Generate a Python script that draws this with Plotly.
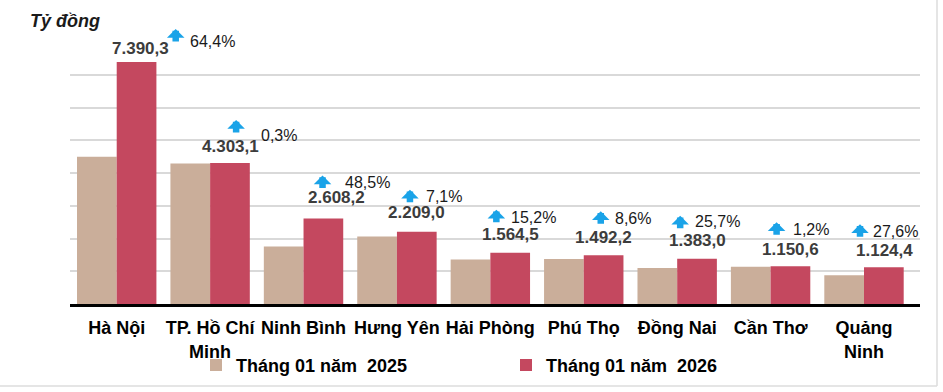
import plotly.graph_objects as go

categories = ["Hà Nội", "TP. Hồ Chí<br>Minh", "Ninh Bình", "Hưng Yên", "Hải Phòng",
              "Phú Thọ", "Đồng Nai", "Cần Thơ", "Quảng<br>Ninh"]
values_2025 = [4495.3, 4290.2, 1756.4, 2062.6, 1358.1, 1374.0, 1100.2, 1137.0, 881.2]
values_2026 = [7390.3, 4303.1, 2608.2, 2209.0, 1564.5, 1492.2, 1383.0, 1150.6, 1124.4]
value_labels = ["7.390,3", "4.303,1", "2.608,2", "2.209,0", "1.564,5",
                "1.492,2", "1.383,0", "1.150,6", "1.124,4"]
growth_labels = ["64,4%", "0,3%", "48,5%", "7,1%", "15,2%", "8,6%", "25,7%", "1,2%", "27,6%"]
series_names = ["Tháng 01 năm\u00a0 2025", "Tháng 01 năm\u00a0 2026"]
y_unit = "Tỷ đồng"

# ---- styling / label placement (pixel offsets relative to the 2026 bar top-centre) ----
C2025 = "#CAAE9A"
C2026 = "#C4485F"
ARROW = "#1AA3E8"
FONT = "Liberation Sans, Arial, sans-serif"
BAR_HALF = 20
value_dx = [4, 0, 13, 0, 0, 0, 0, 0, 0]
value_dy = [13, 17, 21, 19, 18, 18, 18, 17, 17]
arrow_dx = [39, 6, -1, -7, -14, -3, -17, -14, -24]
arrow_tip_dy = [33, 43, 43, 42, 43, 44, 43, 44, 43]
text_dx = [51, 29, 19, 7, -1, 9, -4, 0, -13]
text_dy = [20, 28, 36, 35, 35, 37, 37, 37, 36]

fig = go.Figure()
fig.add_trace(go.Bar(x=categories, y=values_2025, name=series_names[0],
                     marker=dict(color=C2025, line=dict(width=0))))
fig.add_trace(go.Bar(x=categories, y=values_2026, name=series_names[1],
                     marker=dict(color=C2026, line=dict(width=0))))

annotations = []
for i, (cat, v) in enumerate(zip(categories, values_2026)):
    annotations.append(dict(
        x=cat, y=v, xref="x", yref="y", text=value_labels[i], showarrow=False,
        xanchor="center", yanchor="middle", xshift=BAR_HALF + value_dx[i], yshift=value_dy[i],
        font=dict(family=FONT, size=17, color="#3c3c3c", weight="bold")))
    annotations.append(dict(
        x=cat, y=v, xref="x", yref="y", text="", showarrow=True,
        ax=0, ay=14, axref="pixel", ayref="pixel",
        arrowhead=1, arrowsize=0.45, arrowwidth=6.5, arrowcolor=ARROW,
        standoff=0, startstandoff=0,
        xshift=BAR_HALF + arrow_dx[i], yshift=arrow_tip_dy[i]))
    annotations.append(dict(
        x=cat, y=v, xref="x", yref="y", text=growth_labels[i], showarrow=False,
        xanchor="left", yanchor="middle", xshift=BAR_HALF + text_dx[i], yshift=text_dy[i],
        font=dict(family=FONT, size=16, color="#1a1a1a")))

annotations.append(dict(
    x=(65 - 70) / 850, y=1 + (42 - 21) / 262, xref="paper", yref="paper",
    text=f"<b><i>{y_unit}</i></b>", showarrow=False, xanchor="center", yanchor="middle",
    font=dict(family=FONT, size=18, color="#1a1a1a")))

fig.update_layout(
    width=943, height=392,
    margin=dict(l=70, r=23, t=42, b=88, autoexpand=False),
    paper_bgcolor="white", plot_bgcolor="white",
    barmode="group", bargap=0.15, bargroupgap=0,
    font=dict(family=FONT, color="black"),
    showlegend=True,
    legend=dict(orientation="h", x=(196 - 70) / 850, xanchor="left", y=-0.163, yanchor="top",
                font=dict(family=FONT, size=18, color="black", weight="bold"),
                entrywidth=265, entrywidthmode="pixels",
                itemwidth=30, bgcolor="rgba(0,0,0,0)"),
    annotations=annotations,
    shapes=[
        dict(type="line", xref="paper", yref="paper",
             x0=(937 - 70) / 850, x1=(937 - 70) / 850,
             y0=(304 - 386) / 262, y1=(304 - 0) / 262,
             line=dict(color="#dddddd", width=1.5)),
        dict(type="line", xref="paper", yref="paper",
             x0=(0 - 70) / 850, x1=(937 - 70) / 850,
             y0=(304 - 386) / 262, y1=(304 - 386) / 262,
             line=dict(color="#dddddd", width=1.5)),
    ],
)
fig.update_xaxes(showline=True, linecolor="black", linewidth=2.5, automargin=False,
                 tickfont=dict(family=FONT, size=18, color="black", weight="bold"),
                 ticks="", showgrid=False, ticklabelstandoff=6)
fig.update_yaxes(range=[0, 8000], dtick=1000, showgrid=True, gridcolor="#d9d9d9",
                 gridwidth=1.5, showticklabels=False, zeroline=False, ticks="", automargin=False)

fig.write_html("out.html", config={"displayModeBar": False},
               post_script="document.body.style.margin='0';document.body.style.overflow='hidden';")
